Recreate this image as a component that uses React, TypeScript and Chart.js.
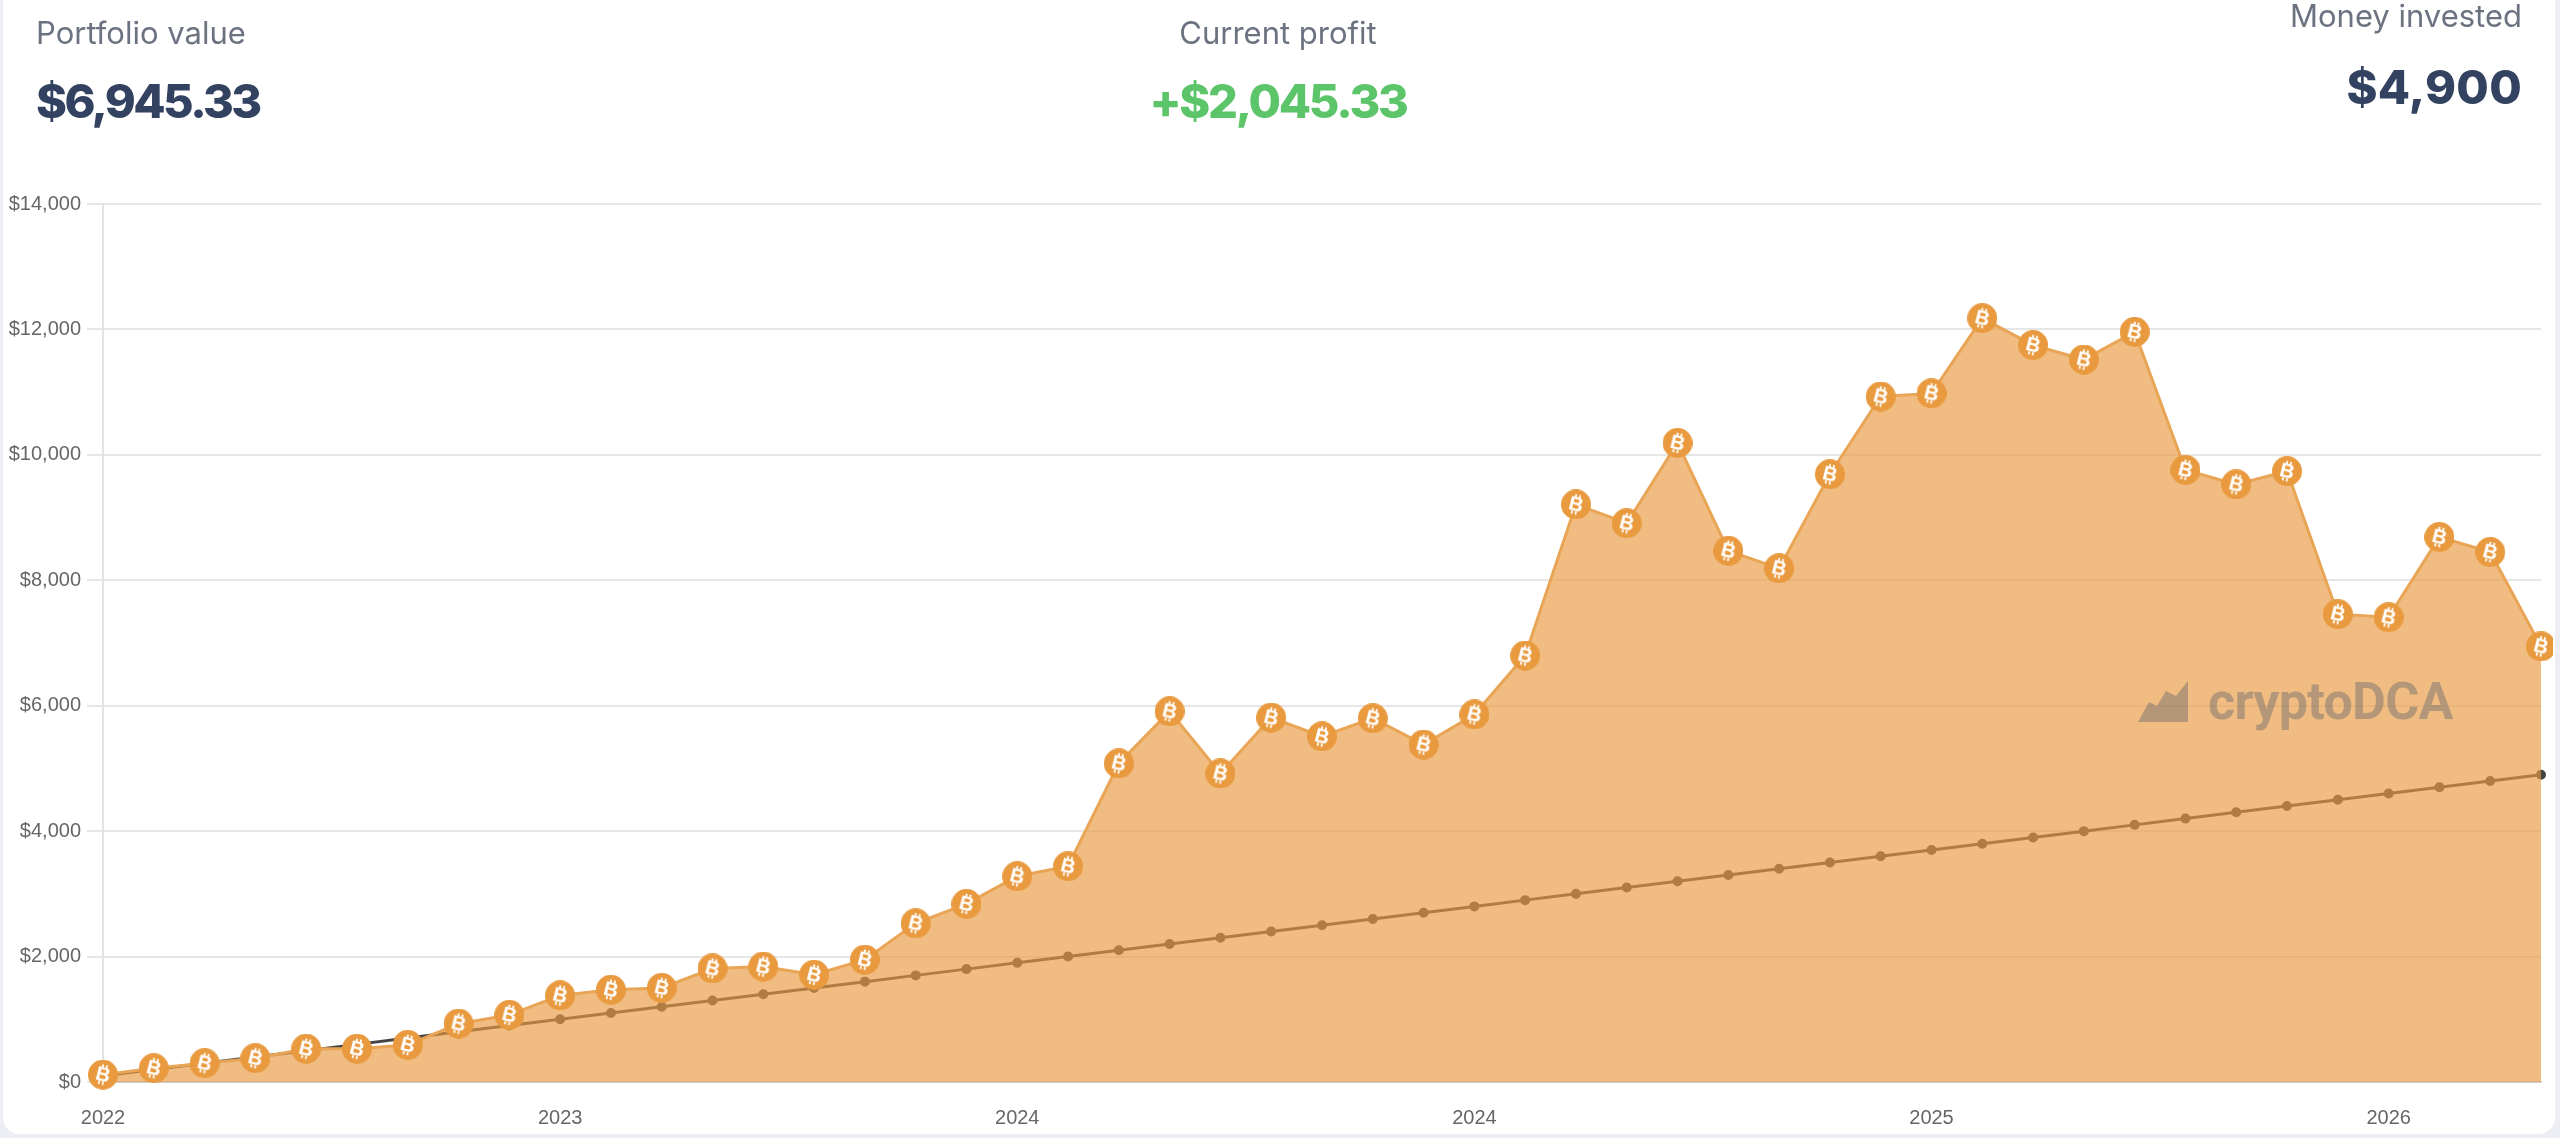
import { useEffect, useRef } from "react"
import { Chart, registerables } from "chart.js"

Chart.register(...registerables)

const tickLabels = ["2022", "2023", "2024", "2024", "2025", "2026"]
const labelEvery = 9

const portfolio = [
  117, 220, 300, 380, 530, 530, 590, 930, 1070, 1380, 1470, 1500, 1810, 1840, 1710, 1950, 2530,
  2840, 3280, 3440, 5080, 5910, 4920, 5810, 5510, 5800, 5380, 5860, 6800, 9210, 8910, 10190, 8470,
  8190, 9690, 10930, 10980, 12180, 11750, 11520, 11960, 9760, 9530, 9740, 7460, 7410, 8690, 8450,
  6945.33,
]

const invested = [
  100, 200, 300, 400, 500, 600, 700, 800, 900, 1000, 1100, 1200, 1300, 1400, 1500, 1600, 1700,
  1800, 1900, 2000, 2100, 2200, 2300, 2400, 2500, 2600, 2700, 2800, 2900, 3000, 3100, 3200, 3300,
  3400, 3500, 3600, 3700, 3800, 3900, 4000, 4100, 4200, 4300, 4400, 4500, 4600, 4700, 4800, 4900,
]

const categories = portfolio.map((_, i) => (i % labelEvery === 0 ? tickLabels[i / labelEvery] : ""))

// orange coin with a white tilted B, used as the point image
function bitcoinIcon() {
  const size = 30
  const canvas = document.createElement("canvas")
  canvas.width = size
  canvas.height = size
  const ctx = canvas.getContext("2d")!
  ctx.fillStyle = "#e99a3f"
  ctx.beginPath()
  ctx.arc(size / 2, size / 2, size / 2, 0, Math.PI * 2)
  ctx.fill()
  ctx.translate(size / 2, size / 2)
  ctx.rotate((14 * Math.PI) / 180)
  ctx.fillStyle = "#ffffff"
  ctx.font = "bold 20px 'Liberation Sans'"
  ctx.textAlign = "center"
  ctx.textBaseline = "middle"
  ctx.fillText("B", 0, 1)
  ctx.fillRect(-3, -10, 1.8, 3)
  ctx.fillRect(1, -10, 1.8, 3)
  ctx.fillRect(-3, 7, 1.8, 3)
  ctx.fillRect(1, 7, 1.8, 3)
  return canvas
}

const labelStyle = { position: "absolute", fontFamily: "Inter", fontSize: 31, color: "#6b7280", whiteSpace: "nowrap" } as const
const valueStyle = { position: "absolute", fontFamily: "Inter", fontSize: 47, fontWeight: 800, color: "#334260", whiteSpace: "nowrap" } as const

export default function App() {
  const chartRef = useRef<HTMLCanvasElement>(null)

  useEffect(() => {
    document.body.style.margin = "0"
    if (!chartRef.current) return
    const icon = bitcoinIcon()

    const chart = new Chart(chartRef.current, {
      type: "line",
      data: {
        labels: categories,
        datasets: [
          {
            label: "Money invested",
            data: invested,
            borderColor: "#444444",
            backgroundColor: "#444444",
            borderWidth: 3,
            pointRadius: 3.5,
            tension: 0,
            clip: false,
            order: 2,
          },
          {
            label: "Portfolio value",
            data: portfolio,
            borderColor: "#e9a556",
            backgroundColor: "rgba(233, 154, 63, 0.66)",
            borderWidth: 3,
            fill: true,
            tension: 0,
            pointStyle: icon,
            clip: false,
            order: 1,
          },
        ],
      },
      options: {
        responsive: false,
        animation: false,
        devicePixelRatio: 1,
        layout: { autoPadding: false, padding: { top: 204, right: 12, left: 0, bottom: 0 } },
        plugins: { legend: { display: false }, tooltip: { enabled: false } },
        scales: {
          x: {
            afterFit: (scale) => {
              scale.height = 56
              scale.paddingRight = 0
            },
            grid: { display: false, drawTicks: false },
            border: { color: "#cfcfcf", width: 2 },
            ticks: {
              autoSkip: false,
              maxRotation: 0,
              color: "#666666",
              padding: 24,
              font: { family: "Liberation Sans", size: 20 },
            },
          },
          y: {
            min: 0,
            max: 14000,
            afterFit: (scale) => {
              scale.width = 103
            },
            grid: { color: "#e6e6e6", lineWidth: 2, tickLength: 16 },
            border: { color: "#e2e2e2", width: 2 },
            ticks: {
              stepSize: 2000,
              padding: 6,
              color: "#666666",
              font: { family: "Liberation Sans", size: 20 },
              callback: (value) => "$" + Number(value).toLocaleString("en-US"),
            },
          },
        },
      },
    })

    return () => {
      chart.destroy()
    }
  }, [])

  return (
    <div style={{ position: "relative", width: 2560, height: 1138, overflow: "hidden", background: "#eceef3" }}>
      <div style={{ position: "absolute", left: 3, top: -20, width: 2552, height: 1154, background: "#ffffff", borderRadius: 16 }} />
      <canvas ref={chartRef} width={2553} height={1138} style={{ position: "absolute", left: 0, top: 0 }} />
      <div style={{ ...labelStyle, left: 36, top: 14 }}>Portfolio value</div>
      <div style={{ ...valueStyle, left: 36, top: 72, letterSpacing: -2.6 }}>$6,945.33</div>
      <div style={{ ...labelStyle, left: 1178, width: 200, textAlign: "center", top: 14 }}>Current profit</div>
      <div style={{ ...valueStyle, left: 1078, width: 400, textAlign: "center", top: 72, letterSpacing: -2.3, color: "#5cc56a" }}>+$2,045.33</div>
      <div style={{ ...labelStyle, right: 38, top: -3 }}>Money invested</div>
      <div style={{ ...valueStyle, right: 38, top: 58, letterSpacing: 0.3 }}>$4,900</div>
      <svg width={60} height={50} style={{ position: "absolute", left: 2135, top: 678 }}>
        <polygon points="3,44 14,24 22,28 31,13 41,18 53,3 53,44" fill="rgba(110, 110, 110, 0.48)" />
      </svg>
      <div style={{ position: "absolute", left: 2208, top: 672, fontFamily: "Roboto", fontWeight: 700, fontSize: 52, lineHeight: "60px", letterSpacing: -0.7, color: "rgba(110, 110, 110, 0.48)" }}>cryptoDCA</div>
    </div>
  )
}
